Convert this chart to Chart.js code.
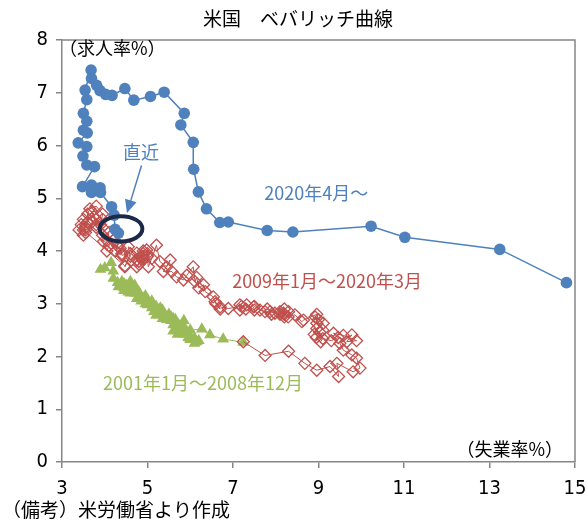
<!DOCTYPE html>
<html>
<head>
<meta charset="utf-8">
<script src="https://cdn.jsdelivr.net/npm/chart.js@4.4.0/dist/chart.umd.min.js"></script>
<style>
html, body { margin: 0; padding: 0; background: #fff; overflow: hidden; }
#chart { display: block; }
</style>
</head>
<body>
<canvas id="chart" width="588" height="524"></canvas>
<script>
// tick values
const xTickValues = [3, 5, 7, 9, 11, 13, 15];
const yTickValues = [0, 1, 2, 3, 4, 5, 6, 7, 8];

// [unemployment rate, job openings rate]
// 2001/1 - 2008/12
const series2001 = [
    [3.9, 3.65], [4.0, 3.68], [4.15, 3.78], [4.2, 3.62], [4.2, 3.48], [4.3, 3.4], [4.32, 3.32], [4.45, 3.25], [4.6, 3.2], [4.9, 3.1], [5.0, 3.02], [5.3, 2.92],
    [5.5, 2.8], [5.6, 2.72], [5.7, 2.62], [5.85, 2.68], [5.8, 2.55], [5.9, 2.5], [5.75, 2.58], [5.7, 2.5], [5.85, 2.45], [6.0, 2.38], [6.0, 2.32], [6.15, 2.28],
    [5.95, 2.36], [5.9, 2.42], [6.1, 2.35], [6.2, 2.3], [6.1, 2.25], [6.0, 2.34], [5.85, 2.48], [5.7, 2.55], [5.6, 2.48], [5.7, 2.42], [5.6, 2.6], [5.55, 2.68],
    [5.45, 2.7], [5.55, 2.75], [5.4, 2.8], [5.35, 2.72], [5.3, 2.82], [5.2, 2.78], [5.25, 2.88], [5.1, 2.92], [5.0, 2.98], [5.15, 2.85], [5.0, 3.05], [4.95, 3.0],
    [4.9, 3.1], [4.85, 3.05], [4.8, 3.15], [4.75, 3.1], [4.7, 3.2], [4.65, 3.25], [4.6, 3.3], [4.55, 3.22], [4.5, 3.35], [4.6, 3.4], [4.5, 3.28], [4.45, 3.38],
    [4.4, 3.42], [4.45, 3.3], [4.55, 3.35], [4.6, 3.42], [4.7, 3.3], [4.6, 3.25], [4.75, 3.2], [4.7, 3.35], [4.8, 3.22], [4.85, 3.12], [4.95, 3.15], [5.0, 3.08],
    [5.05, 3.0], [5.1, 3.05], [5.2, 2.95], [5.35, 2.88], [5.5, 2.78], [5.65, 2.7], [5.8, 2.6], [6.0, 2.5], [6.27, 2.52], [6.46, 2.41], [6.77, 2.33], [7.24, 2.27]
];

// 2009/1 - 2020/3
const series2009 = [
    [7.24, 2.28], [7.75, 2.02], [8.3, 2.1], [8.68, 1.87], [8.96, 1.74], [9.27, 1.81], [9.47, 1.62], [9.43, 1.87], [9.81, 1.71], [9.97, 1.78], [9.89, 1.97], [9.78, 2.03],
    [9.58, 2.12], [9.5, 2.25], [9.78, 2.41], [9.66, 2.28], [9.89, 2.3], [9.58, 2.4], [9.35, 2.44], [9.46, 2.36], [9.3, 2.3], [9.1, 2.34], [9.05, 2.28], [8.95, 2.36],
    [9.03, 2.46], [8.9, 2.42], [8.96, 2.53], [9.11, 2.63], [8.96, 2.63], [9.1, 2.5], [8.92, 2.75], [9.0, 2.7], [8.96, 2.8], [8.65, 2.69], [8.61, 2.66], [8.45, 2.79],
    [8.29, 2.75], [8.3, 2.85], [8.18, 2.82], [8.2, 2.9], [8.2, 2.8], [8.1, 2.85], [8.2, 2.75], [8.1, 2.8], [7.8, 2.9], [7.98, 2.82], [7.87, 2.85], [7.75, 2.85],
    [7.9, 2.8], [7.63, 2.88], [7.5, 2.95], [7.48, 2.94], [7.5, 2.88], [7.32, 2.98], [7.3, 2.9], [7.16, 2.98], [7.16, 2.88], [7.2, 2.95], [6.89, 2.91], [6.7, 2.94],
    [6.58, 3.04], [6.7, 2.9], [6.6, 3.0], [6.54, 3.13], [6.35, 3.23], [6.31, 3.36], [6.2, 3.3], [6.15, 3.5], [6.11, 3.42], [6.07, 3.7], [5.92, 3.54], [5.84, 3.45],
    [5.68, 3.51], [5.57, 3.61], [5.37, 3.61], [5.53, 3.83], [5.45, 3.7], [5.29, 3.8], [5.21, 4.11], [5.1, 3.86], [5.02, 3.7], [4.98, 4.02], [5.0, 3.9], [4.9, 3.85],
    [4.75, 3.96], [4.75, 3.83], [4.9, 3.95], [4.8, 3.75], [4.75, 3.7], [4.9, 3.9], [4.8, 3.8], [4.9, 4.0], [5.0, 3.95], [4.85, 3.88], [4.55, 4.08], [4.6, 3.9],
    [4.47, 3.7], [4.6, 3.95], [4.4, 3.92], [4.36, 4.05], [4.4, 3.95], [4.3, 4.1], [4.25, 4.0], [4.3, 4.15], [4.2, 4.2], [4.1, 4.1], [4.05, 4.0], [3.97, 4.18],
    [4.05, 4.2], [4.1, 4.35], [3.95, 4.3], [4.0, 4.4], [3.8, 4.45], [3.95, 4.6], [3.8, 4.5], [3.75, 4.65], [3.7, 4.75], [3.8, 4.6], [3.7, 4.55], [3.9, 4.5],
    [3.95, 4.7], [3.8, 4.85], [3.65, 4.8], [3.6, 4.7], [3.6, 4.55], [3.45, 4.5], [3.4, 4.4], [3.55, 4.35], [3.5, 4.3], [3.55, 4.4], [3.5, 4.6], [3.55, 4.45],
    [3.55, 4.5], [3.5, 4.4], [4.47, 3.72]
];

// 2020/4 -
const series2020 = [
    [14.8, 3.4], [13.24, 4.03], [11.02, 4.26], [10.23, 4.47], [8.4, 4.36], [7.8, 4.39], [6.89, 4.55], [6.69, 4.54], [6.38, 4.8], [6.19, 5.12], [6.08, 5.55], [6.07, 6.06],
    [5.78, 6.39], [5.86, 6.61], [5.39, 7.01], [5.07, 6.93], [4.68, 6.86], [4.47, 7.08], [4.17, 6.95], [4.02, 6.97], [3.89, 7.04], [3.81, 7.14], [3.69, 7.27], [3.68, 7.43],
    [3.54, 7.05], [3.58, 6.87], [3.5, 6.61], [3.58, 6.46], [3.5, 6.29], [3.59, 6.24], [3.38, 6.05], [3.58, 5.98], [3.49, 5.8], [3.58, 5.63], [3.76, 5.6], [3.48, 5.22],
    [3.69, 5.25], [3.89, 5.2], [3.69, 5.11], [3.9, 5.11], [4.16, 4.84], [4.22, 4.68], [4.24, 4.41], [4.32, 4.34]
];

const seriesNames = ['2020年4月～', '2009年1月～2020年3月', '2001年1月～2008年12月'];
const seriesColors = ['#4f81bd', '#c0504d', '#9bbb59'];

const axisColor = '#868686';
const cjkFont = '"Noto Sans CJK JP", "Noto Sans", sans-serif';
const numFont = '"Liberation Sans Narrow", "DejaVu Sans Condensed", "Noto Sans", sans-serif';

function toPoints(pairs) {
    return pairs.map(function(p) { return {x: p[0], y: p[1]}; });
}

// labels, ellipse and arrow drawn on top of the plot
const extrasPlugin = {
    id: 'extras',
    afterDatasetsDraw(chart) {
        const ctx = chart.ctx;
        const area = chart.chartArea;
        const xs = chart.scales.x;
        const ys = chart.scales.y;
        const px = v => xs.getPixelForValue(v);
        const py = v => ys.getPixelForValue(v);

        ctx.save();

        // top and right frame
        ctx.strokeStyle = axisColor;
        ctx.lineWidth = 1.5;
        ctx.beginPath();
        ctx.moveTo(area.left, area.top);
        ctx.lineTo(area.right, area.top);
        ctx.lineTo(area.right, area.bottom);
        ctx.stroke();

        // circle round the latest point
        ctx.strokeStyle = '#1c2a48';
        ctx.lineWidth = 4;
        ctx.beginPath();
        ctx.ellipse(px(4.38), py(4.42), px(4.38 + 0.5) - px(4.38), py(4.42) - py(4.42 + 0.24), 0, 0, Math.PI * 2);
        ctx.stroke();

        // arrow from the label
        const ax0 = px(4.86), ay0 = py(5.62);
        const ax1 = px(4.52), ay1 = py(4.72);
        const ang = Math.atan2(ay1 - ay0, ax1 - ax0);
        ctx.strokeStyle = seriesColors[0];
        ctx.fillStyle = seriesColors[0];
        ctx.lineWidth = 1.5;
        ctx.beginPath();
        ctx.moveTo(ax0, ay0);
        ctx.lineTo(ax1 - Math.cos(ang) * 8, ay1 - Math.sin(ang) * 8);
        ctx.stroke();
        ctx.beginPath();
        ctx.moveTo(ax1, ay1);
        ctx.lineTo(ax1 - Math.cos(ang) * 13 + Math.sin(ang) * 6, ay1 - Math.sin(ang) * 13 - Math.cos(ang) * 6);
        ctx.lineTo(ax1 - Math.cos(ang) * 13 - Math.sin(ang) * 6, ay1 - Math.sin(ang) * 13 + Math.cos(ang) * 6);
        ctx.closePath();
        ctx.fill();

        ctx.textBaseline = 'middle';
        ctx.font = '18px ' + cjkFont;

        ctx.fillStyle = seriesColors[0];
        ctx.textAlign = 'center';
        ctx.fillText('直近', px(4.85), py(5.88));
        ctx.textAlign = 'left';
        ctx.fillText(seriesNames[0], px(7.73), py(5.1));

        ctx.fillStyle = seriesColors[1];
        ctx.fillText(seriesNames[1], px(6.98), py(3.43));

        ctx.fillStyle = seriesColors[2];
        ctx.fillText(seriesNames[2], px(3.96), py(1.5));

        // axis titles
        ctx.fillStyle = '#000';
        ctx.fillText('（求人率%）', area.left - 3, area.top + 8);
        ctx.textAlign = 'right';
        ctx.fillText('（失業率%）', area.right - 12, area.bottom - 13);

        // title and note
        ctx.font = '19px ' + cjkFont;
        ctx.textAlign = 'center';
        ctx.fillText('米国　ベバリッチ曲線', chart.width / 2 + 4, 19);
        ctx.textAlign = 'left';
        ctx.fillText('（備考）米労働省より作成', 2, 510);

        ctx.restore();
    }
};

function makeDataset(idx, pairs, style) {
    return Object.assign({
        label: seriesNames[idx],
        data: toPoints(pairs),
        showLine: true,
        borderColor: seriesColors[idx],
        pointBorderColor: seriesColors[idx],
        pointBackgroundColor: seriesColors[idx],
        borderWidth: 1,
        pointRadius: 5.5
    }, style);
}

const ctx = document.getElementById('chart').getContext('2d');
const chart = new Chart(ctx, {
    type: 'scatter',
    data: {
        datasets: [
            makeDataset(0, series2020, {pointStyle: 'circle', borderWidth: 1.5, pointBorderWidth: 0, pointRadius: 5.8}),
            makeDataset(1, series2009, {pointStyle: 'rectRot', pointBackgroundColor: 'rgba(0,0,0,0)', pointBorderWidth: 1.3, pointRadius: 6}),
            makeDataset(2, series2001, {pointStyle: 'triangle', pointBorderWidth: 0, pointRadius: 6.8})
        ]
    },
    options: {
        responsive: false,
        animation: false,
        events: [],
        layout: { padding: { left: 0, right: 13, top: 40, bottom: 0 } },
        plugins: {
            legend: { display: false },
            tooltip: { enabled: false }
        },
        scales: {
            x: {
                type: 'linear',
                min: 3,
                max: 15,
                afterBuildTicks: function(scale) {
                    scale.ticks = xTickValues.map(v => ({value: v}));
                },
                afterFit: function(scale) {
                    scale.height = 62;
                    // no extra room for the end labels, layout padding covers it
                    scale.paddingLeft = 0;
                    scale.paddingRight = 0;
                },
                grid: { drawOnChartArea: false, tickLength: 6, color: axisColor, lineWidth: 1.5 },
                border: { color: axisColor, width: 1.5 },
                ticks: { color: '#000', padding: 9, maxRotation: 0, font: { family: numFont, size: 20 } }
            },
            y: {
                type: 'linear',
                min: 0,
                max: 8,
                afterBuildTicks: function(scale) {
                    scale.ticks = yTickValues.map(v => ({value: v}));
                },
                afterFit: function(scale) {
                    scale.width = 62;
                    scale.paddingTop = 0;
                    scale.paddingBottom = 0;
                },
                grid: { drawOnChartArea: false, tickLength: 6, color: axisColor, lineWidth: 1.5 },
                border: { color: axisColor, width: 1.5 },
                ticks: { color: '#000', padding: 8, font: { family: numFont, size: 20 } }
            }
        }
    },
    plugins: [extrasPlugin]
});
</script>
</body>
</html>
